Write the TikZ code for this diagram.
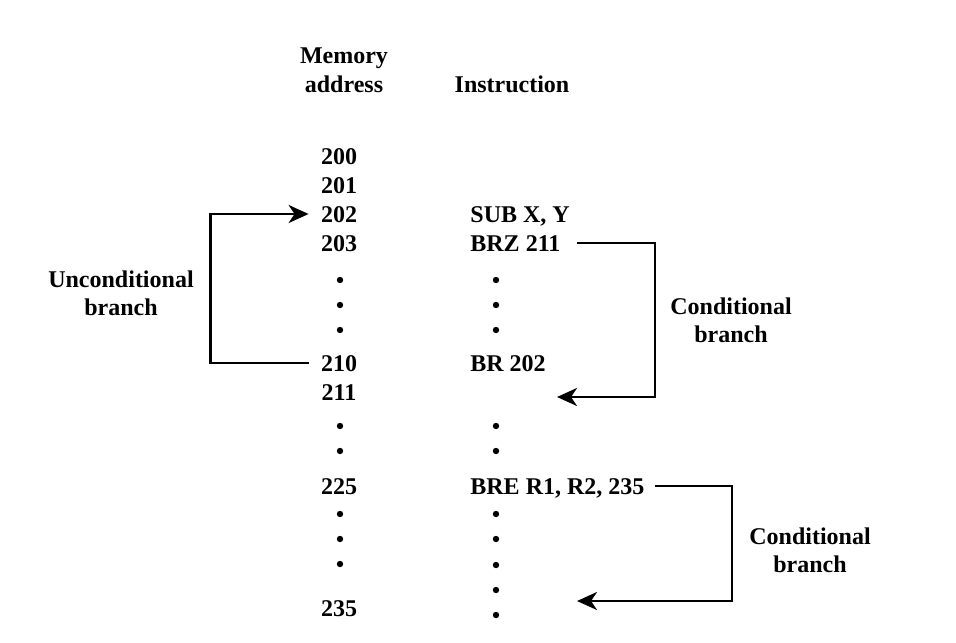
\documentclass[tikz,border=0pt]{standalone}
\usepackage{fontspec}
\setmainfont{Liberation Serif}
\usetikzlibrary{arrows.meta}

\begin{document}
\begin{tikzpicture}[x=0.5pt, y=-0.5pt,
  txt/.style={font=\fontsize{12}{14}\selectfont\bfseries, inner sep=0pt, anchor=base, align=center},
  instr/.style={txt, anchor=base west},
  bullet/.style={circle, fill=black, inner sep=0pt, minimum size=3.2pt},
  branch/.style={line width=1.3pt, -{Stealth[length=10pt, width=9pt, inset=3pt]}}]
  \useasboundingbox (0, 0) rectangle (956, 642);

  \node[txt] (memaddr) at (344, 92) {Memory\\address};
  \node[txt] (instrhead) at (512, 92) {Instruction};

  \node[txt] (a200) at (339, 164) {200};
  \node[txt] (a201) at (339, 193) {201};
  \node[txt] (a202) at (339, 222) {202};
  \node[txt] (a203) at (339, 251) {203};
  \node[txt] (a210) at (339, 371) {210};
  \node[txt] (a211) at (339, 400) {211};
  \node[txt] (a225) at (339, 494) {225};
  \node[txt] (a235) at (339, 616) {235};

  \node[instr] (i202) at (470, 222) {SUB X, Y};
  \node[instr] (i203) at (470, 251) {BRZ 211};
  \node[instr] (i210) at (470, 371) {BR 202};
  \node[instr] (i225) at (470, 494) {BRE R1, R2, 235};

  % dots between the rows
  \node[bullet] (ad1) at (340, 280) {}; \node[bullet] (ad2) at (340, 305) {}; \node[bullet] (ad3) at (340, 330) {};
  \node[bullet] (ad4) at (340, 426) {}; \node[bullet] (ad5) at (340, 451) {};
  \node[bullet] (ad6) at (340, 514) {}; \node[bullet] (ad7) at (340, 539) {}; \node[bullet] (ad8) at (340, 564) {};
  \node[bullet] (id1) at (496, 280) {}; \node[bullet] (id2) at (496, 305) {}; \node[bullet] (id3) at (496, 330) {};
  \node[bullet] (id4) at (496, 426) {}; \node[bullet] (id5) at (496, 451) {};
  \node[bullet] (id6) at (496, 514) {}; \node[bullet] (id7) at (496, 539) {}; \node[bullet] (id8) at (496, 565) {};
  \node[bullet] (id9) at (496, 590) {}; \node[bullet] (id10) at (496, 615) {};

  \coordinate (t211) at (557, 397);
  \coordinate (t235) at (577, 601);

  \draw[branch] ([xshift=-6pt, yshift=4pt]a210.base west) -- ++(-98, 0) |- ([xshift=-6pt, yshift=4pt]a202.base west);
  \draw[branch] ([xshift=8pt, yshift=4pt]i203.base east) -- ++(78, 0) |- (t211);
  \draw[branch] ([xshift=5pt, yshift=4pt]i225.base east) -- ++(77, 0) |- (t235);

  \node[txt] (uncond) at (121, 315) {Unconditional\\branch};
  \node[txt] (cond1) at (731, 342) {Conditional\\branch};
  \node[txt] (cond2) at (810, 572) {Conditional\\branch};
\end{tikzpicture}
\end{document}
